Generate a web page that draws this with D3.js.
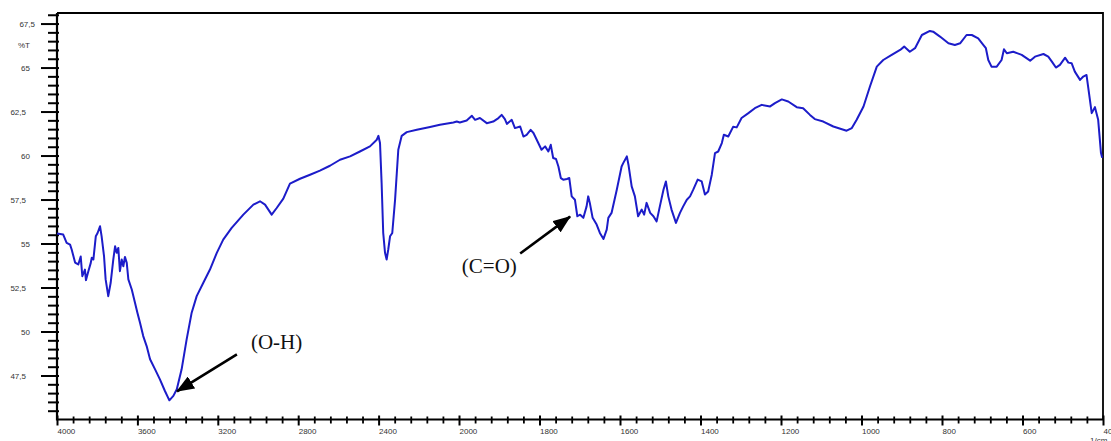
<!DOCTYPE html>
<html>
<head>
<meta charset="utf-8">
<script src="https://cdn.jsdelivr.net/npm/d3@7"></script>
<style>
  body { margin: 0; background: #fff; }
  svg { display: block; }
  .lbl { font-family: "Liberation Sans", Arial, sans-serif; font-size: 8px; fill: #333; }
  .note { font-family: "Liberation Serif", "Times New Roman", serif; font-size: 21px; fill: #111; }
</style>
</head>
<body>
<div id="chart"></div>
<script>
// FTIR spectrum: [wavenumber 1/cm, %T]
var spectrum = [
  [4000,55.57],[3969,55.51],[3952,55.04],[3935,54.94],[3927,54.66],[3910,53.92],[3894,53.81],[3882,54.26],
  [3874,53.14],[3861,53.52],[3856,52.92],[3844,53.43],[3832,53.90],[3827,54.19],[3819,54.09],[3807,55.41],
  [3798,55.60],[3786,55.98],[3778,55.41],[3766,54.28],[3758,52.96],[3745,52.01],[3733,52.77],[3720,54.09],
  [3711,54.84],[3703,54.47],[3695,54.75],[3687,53.43],[3678,54.09],[3670,53.71],[3662,54.24],[3653,53.90],
  [3645,52.96],[3628,52.39],[3612,51.63],[3600,51.07],[3587,50.50],[3571,49.74],[3554,49.17],[3537,48.42],
  [3512,47.85],[3488,47.28],[3463,46.62],[3441,46.09],[3421,46.34],[3404,46.72],[3380,47.85],[3355,49.55],
  [3330,51.07],[3305,52.01],[3272,52.77],[3239,53.52],[3205,54.47],[3173,55.22],[3131,55.89],[3073,56.64],
  [3023,57.21],[2990,57.40],[2965,57.21],[2932,56.64],[2907,57.02],[2874,57.55],[2841,58.40],[2791,58.68],
  [2741,58.91],[2692,59.14],[2642,59.42],[2592,59.76],[2542,59.95],[2493,60.23],[2443,60.52],[2409,60.90],
  [2401,61.12],[2393,60.71],[2385,58.44],[2377,55.60],[2368,54.47],[2360,54.09],[2352,54.66],[2343,55.41],
  [2332,55.60],[2318,57.49],[2302,60.33],[2285,61.12],[2260,61.33],[2210,61.46],[2144,61.62],[2095,61.75],
  [2028,61.88],[2011,61.93],[1998,61.88],[1981,61.99],[1968,62.26],[1960,62.03],[1948,62.13],[1931,61.84],
  [1915,61.93],[1902,62.13],[1894,62.31],[1886,62.07],[1881,61.80],[1869,62.03],[1861,61.56],[1848,61.65],
  [1840,61.08],[1832,61.18],[1822,61.46],[1815,61.28],[1803,60.71],[1795,60.33],[1786,60.52],[1778,60.23],
  [1772,60.61],[1766,59.86],[1759,59.80],[1753,59.38],[1747,58.72],[1741,58.63],[1732,58.67],[1726,58.72],
  [1720,57.68],[1712,57.49],[1706,56.55],[1699,56.64],[1691,56.46],[1683,57.11],[1679,57.68],[1675,57.31],
  [1668,56.46],[1658,56.08],[1650,55.60],[1641,55.26],[1633,55.79],[1629,56.46],[1621,56.74],[1608,58.06],
  [1596,59.38],[1592,59.57],[1583,59.95],[1579,59.48],[1571,58.25],[1563,57.68],[1555,56.55],[1546,56.93],
  [1540,56.64],[1534,57.31],[1525,56.74],[1517,56.55],[1509,56.26],[1501,57.11],[1492,58.06],[1486,58.53],
  [1480,57.68],[1472,56.93],[1461,56.17],[1451,56.74],[1443,57.11],[1434,57.49],[1426,57.68],[1418,58.06],
  [1407,58.63],[1397,58.53],[1389,57.78],[1381,57.96],[1372,58.91],[1364,60.14],[1356,60.23],[1347,60.71],
  [1342,61.18],[1331,61.08],[1319,61.63],[1310,61.60],[1298,62.13],[1281,62.41],[1265,62.69],[1248,62.88],
  [1227,62.79],[1215,62.98],[1198,63.19],[1182,63.07],[1161,62.75],[1145,62.69],[1128,62.31],[1116,62.07],
  [1095,61.93],[1070,61.65],[1037,61.41],[1024,61.56],[1012,62.03],[995,62.79],[979,63.92],[962,65.05],
  [946,65.43],[925,65.72],[904,66.00],[894,66.19],[880,65.90],[867,66.10],[850,66.85],[830,67.08],
  [822,67.04],[805,66.76],[784,66.38],[768,66.28],[755,66.38],[739,66.85],[726,66.85],[710,66.66],
  [697,66.28],[691,66.10],[685,65.43],[677,65.05],[664,65.05],[652,65.43],[646,66.04],[639,65.81],
  [623,65.90],[602,65.72],[581,65.39],[569,65.62],[548,65.77],[536,65.62],[527,65.34],[517,65.00],
  [507,65.15],[494,65.56],[486,65.28],[478,65.25],[470,64.77],[457,64.30],[449,64.49],[441,64.58],
  [437,63.92],[428,62.41],[420,62.75],[412,62.03],[405,60.14],[402,59.88]
];

// axis values
var xBreaks = [4000, 2000, 400];          // scale changes at 2000 1/cm
var xMajor = [4000, 3600, 3200, 2800, 2400, 2000, 1800, 1600, 1400, 1200, 1000, 800, 600, 400];
var yMajor = [47.5, 50, 52.5, 55, 57.5, 60, 62.5, 65, 67.5];
var yDomain = [45, 68.1];

// band annotations: label anchor, arrow tail, arrow tip (data coords)
var notes = [
  { text: '(O-H)', at: [3035, 49.01], tail: [3105, 48.70], tip: [3403, 46.6] },
  { text: '(C=O)', at: [1993, 53.35], tail: [1848, 54.43], tip: [1724, 56.53] }
];

var svg = d3.select('#chart').append('svg')
    .attr('width', 1111)
    .attr('height', 441);

// Set the ranges
var x = d3.scaleLinear().domain(xBreaks).range([57, 459, 1103]);
var y = d3.scaleLinear().domain(yDomain).range([419.5, 13]);

var fmt = function (d) { return String(d).replace('.', ','); };

// Y minor ticks (every 0.5)
var yMinor = d3.range(45.5, 68.01, 0.5).filter(function (d) { return yMajor.indexOf(d) < 0; });
svg.append('g')
    .attr('transform', 'translate(57,0)')
    .call(d3.axisLeft(y).tickValues(yMinor).tickSize(9).tickFormat(''))
    .call(function (g) { g.select('.domain').remove(); })
    .selectAll('line').attr('x1', 2).attr('stroke', '#000').attr('stroke-width', 2);

// Y major ticks + labels
var yAxis = svg.append('g')
    .attr('transform', 'translate(57,0)')
    .call(d3.axisLeft(y).tickValues(yMajor).tickSize(16).tickFormat(fmt))
    .call(function (g) { g.select('.domain').remove(); });
yAxis.selectAll('line').attr('x1', 2).attr('stroke', '#000').attr('stroke-width', 2);
yAxis.selectAll('text')
    .attr('class', 'lbl')
    .attr('font-size', null).attr('font-family', null)
    .attr('x', function (d) { return d === 67.5 ? -22 : (d % 1 ? -31 : -27); })
    .attr('dy', '0.35em');

// X minor ticks (every 80 above 2000, every 40 below)
var xMinor = d3.range(2080, 4000, 80).concat(d3.range(440, 2000, 40))
    .filter(function (d) { return xMajor.indexOf(d) < 0; });
svg.append('g')
    .attr('transform', 'translate(0,419.5)')
    .call(d3.axisBottom(x).tickValues(xMinor).tickSize(4).tickFormat(''))
    .call(function (g) { g.select('.domain').remove(); })
    .selectAll('line').attr('y1', -3).attr('stroke', '#000').attr('stroke-width', 1.8);

// X major ticks + labels
var xAxis = svg.append('g')
    .attr('transform', 'translate(0,419.5)')
    .call(d3.axisBottom(x).tickValues(xMajor).tickSize(6).tickFormat(function (d) { return d; }))
    .call(function (g) { g.select('.domain').remove(); });
xAxis.selectAll('line').attr('y1', -4).attr('stroke', '#000').attr('stroke-width', 2);
xAxis.selectAll('text')
    .attr('class', 'lbl')
    .attr('font-size', null).attr('font-family', null)
    .attr('text-anchor', 'start')
    .attr('x', 0)
    .attr('y', 14)
    .attr('dy', 0);

// Axis lines and frame
svg.append('path')
    .attr('d', 'M' + x(4000) + ',' + y(yDomain[1]) + 'V' + y(yDomain[0]) + 'H' + x(400))
    .attr('fill', 'none').attr('stroke', '#000').attr('stroke-width', 2.2);
svg.append('path')
    .attr('d', 'M' + x(4000) + ',' + y(yDomain[1]) + 'H' + x(400) + 'V' + y(yDomain[0]))
    .attr('fill', 'none').attr('stroke', '#000').attr('stroke-width', 1.8);

// Axis captions
svg.append('text').attr('class', 'lbl').attr('x', 30).attr('y', 45).attr('dy', '0.35em')
    .attr('text-anchor', 'end').text('%T');
svg.append('text').attr('class', 'lbl').attr('x', 1090).attr('y', 443).text('1/cm');

// Spectrum line
svg.append('path')
    .datum(spectrum)
    .attr('fill', 'none')
    .attr('stroke', '#1c1cc9')
    .attr('stroke-width', 2)
    .attr('stroke-linejoin', 'round')
    .attr('d', d3.line()
        .x(function (d) { return x(d[0]); })
        .y(function (d) { return y(d[1]); }));

// Arrow marker
svg.append('defs').append('marker')
    .attr('id', 'head')
    .attr('markerUnits', 'userSpaceOnUse')
    .attr('markerWidth', 18).attr('markerHeight', 14)
    .attr('refX', 17).attr('refY', 7)
    .attr('orient', 'auto')
    .append('path').attr('d', 'M0,0L18,7L0,14Z').attr('fill', '#000');

// Annotations
notes.forEach(function (n) {
    svg.append('line')
        .attr('x1', x(n.tail[0])).attr('y1', y(n.tail[1]))
        .attr('x2', x(n.tip[0])).attr('y2', y(n.tip[1]))
        .attr('stroke', '#000').attr('stroke-width', 2.6)
        .attr('marker-end', 'url(#head)');
    svg.append('text')
        .attr('class', 'note')
        .attr('x', x(n.at[0]))
        .attr('y', y(n.at[1]))
        .text(n.text);
});
</script>
</body>
</html>
